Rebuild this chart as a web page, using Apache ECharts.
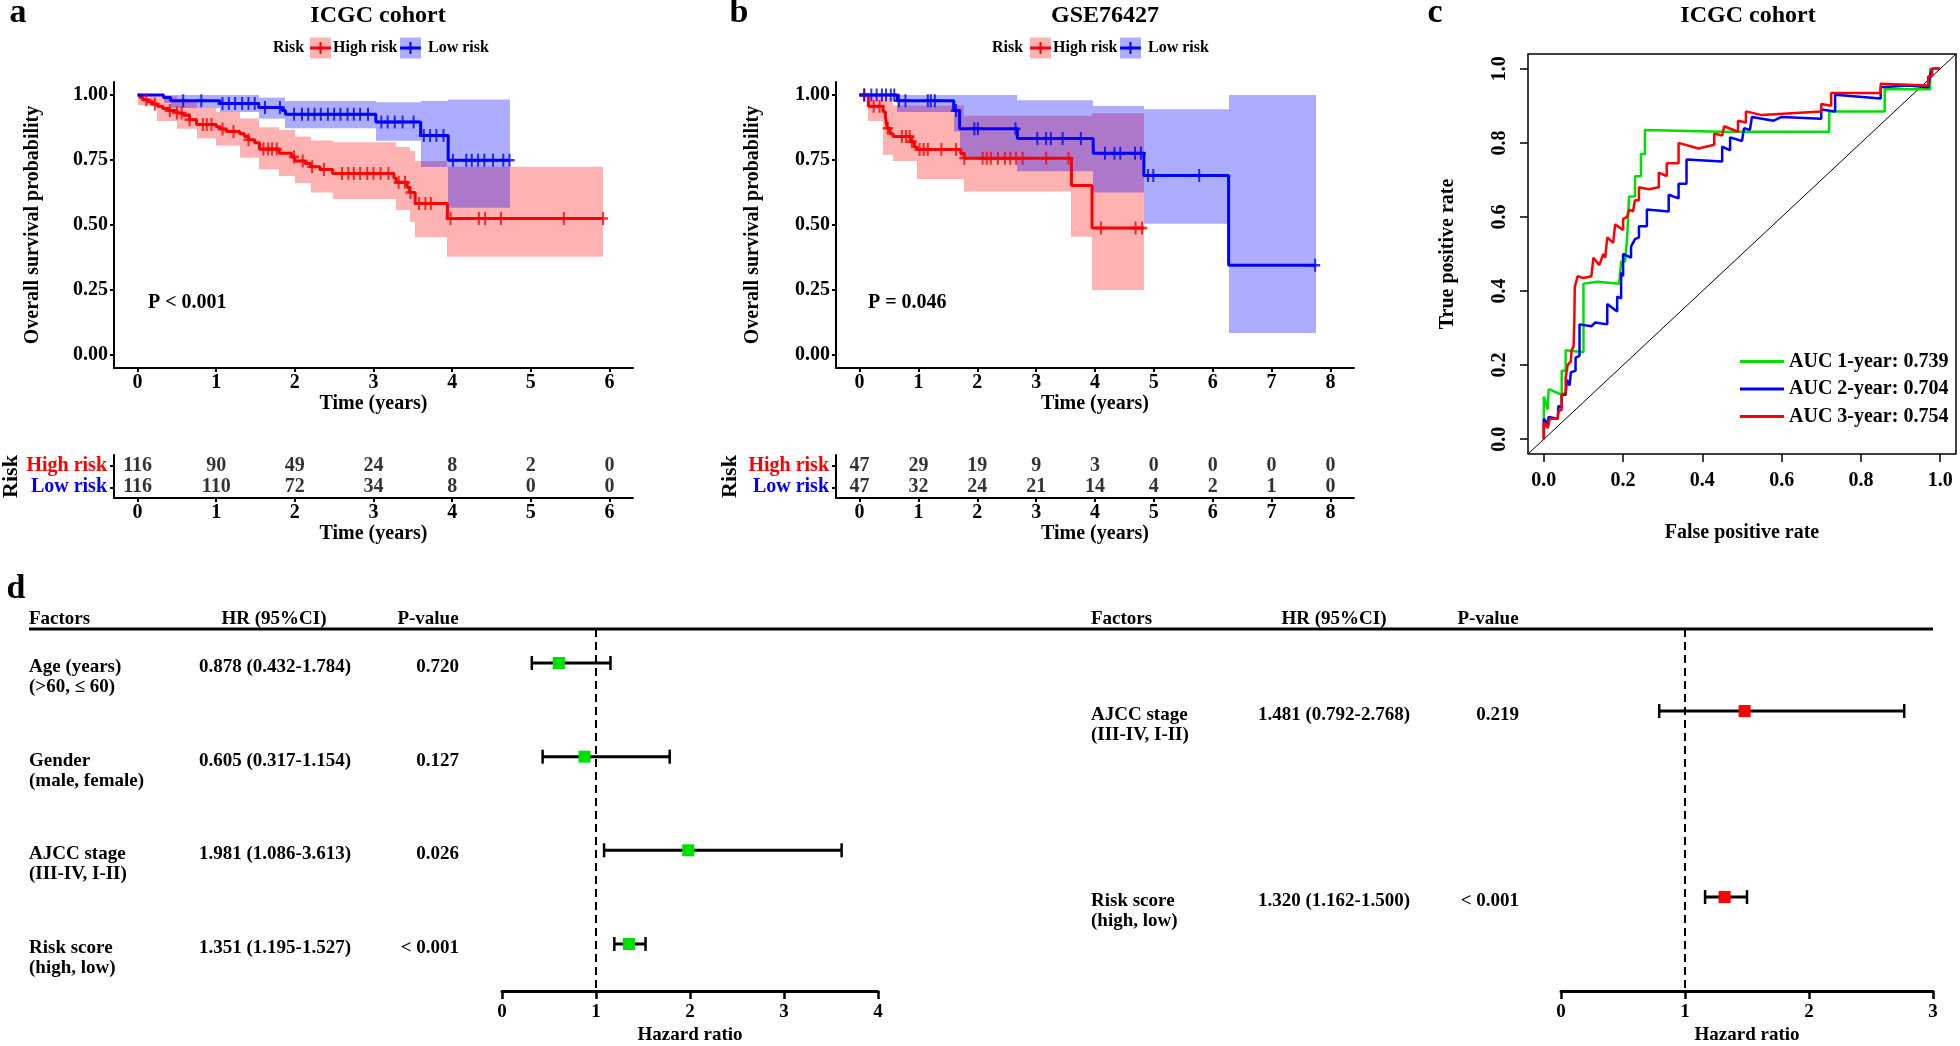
<!DOCTYPE html>
<html><head><meta charset="utf-8">
<script src="https://cdn.jsdelivr.net/npm/echarts@6/dist/echarts.min.js"></script>
<style>html,body{margin:0;padding:0;background:#fff}#c{width:1960px;height:1046px}</style>
</head><body><div id="c"></div><script>
// ---------------- DATA ----------------
// Panel a (ICGC cohort) Kaplan-Meier
const aHighTimes = [0,0.03,0.07,0.13,0.19,0.25,0.32,0.40,0.50,0.58,0.66,0.75,1.00,1.05,1.13,1.30,1.36,1.41,1.49,1.55,1.80,1.96,2.00,2.13,2.20,2.32,2.48,3.26,3.29,3.43,3.46,3.53,3.94];
const aHighSurv  = [1,0.99,0.982,0.974,0.965,0.957,0.948,0.94,0.931,0.922,0.905,0.887,0.878,0.869,0.86,0.851,0.84,0.828,0.816,0.792,0.776,0.762,0.746,0.737,0.724,0.713,0.698,0.68,0.664,0.644,0.625,0.583,0.525];
const aHighEnd = 5.92;
const aHighCensor = [0.11,0.22,0.41,0.5,0.56,0.66,0.83,0.88,0.94,1.08,1.22,1.41,1.6,1.66,1.71,1.77,1.99,2.1,2.22,2.37,2.6,2.68,2.75,2.83,2.92,3.0,3.09,3.19,3.32,3.4,3.47,3.58,3.66,3.73,3.98,4.34,4.42,4.62,5.42,5.92];
const aHighBandT  = [0,0.25,0.5,0.75,1.0,1.3,1.55,1.8,2.0,2.2,2.48,3.29,3.46,3.53,3.94,5.92];
const aHighBandLo = [0.96,0.9,0.87,0.833,0.805,0.759,0.714,0.688,0.661,0.625,0.6,0.557,0.512,0.453,0.378];
const aHighBandHi = [1.0,0.995,0.98,0.95,0.935,0.91,0.876,0.866,0.84,0.825,0.818,0.8,0.785,0.746,0.724];

const aLowTimes = [0,0.33,0.42,1.05,1.54,1.84,1.88,3.03,3.6,3.95];
const aLowSurv  = [1,0.99,0.978,0.967,0.952,0.94,0.926,0.896,0.844,0.749];
const aLowEnd = 4.73;
const aLowCensor = [0.58,0.81,1.08,1.16,1.24,1.33,1.41,1.49,1.62,1.81,1.99,2.09,2.17,2.25,2.33,2.42,2.5,2.58,2.67,2.75,2.83,2.93,3.1,3.18,3.27,3.37,3.51,3.64,3.72,3.8,3.89,4.01,4.18,4.25,4.33,4.41,4.52,4.65,4.73];
const aLowBandT  = [0.33,0.42,1.05,1.54,1.88,3.03,3.6,3.95,4.73];
const aLowBandLo = [0.97,0.95,0.935,0.909,0.872,0.824,0.723,0.566];
const aLowBandHi = [1,1,1,0.99,0.977,0.972,0.977,0.983];

const aTicks = [0,1,2,3,4,5,6];
const aHighRisk = [116,90,49,24,8,2,0];
const aLowRisk  = [116,110,72,34,8,0,0];

// Panel b (GSE76427) Kaplan-Meier
const bHighTimes = [0,0.15,0.40,0.44,0.47,0.52,0.57,0.88,0.93,0.98,1.72,1.78,3.6,3.95];
const bHighSurv  = [1,0.957,0.936,0.914,0.872,0.851,0.84,0.82,0.80,0.79,0.775,0.757,0.652,0.488];
const bHighEnd = 4.83;
const bHighCensor = [0.08,0.24,0.34,0.48,0.72,0.79,0.85,0.89,1.02,1.09,1.16,1.39,1.64,1.78,2.09,2.16,2.23,2.35,2.47,2.56,2.66,2.77,3.17,3.55,4.1,4.69,4.8];
const bHighBandT  = [0.15,0.4,0.57,0.98,1.78,3.6,3.95,4.83];
const bHighBandLo = [0.9,0.77,0.746,0.677,0.629,0.455,0.25];
const bHighBandHi = [1.0,0.99,0.96,0.96,0.92,0.92,0.93];

const bLowTimes = [0,0.64,1.6,1.7,2.68,3.97,4.83,6.27];
const bLowSurv  = [1,0.978,0.94,0.87,0.833,0.776,0.69,0.345];
const bLowEnd = 7.75;
const bLowCensor = [0.08,0.2,0.29,0.38,0.45,0.53,0.59,0.67,0.78,1.16,1.21,1.28,1.64,1.95,2.01,2.65,3.02,3.17,3.25,3.45,3.76,4.17,4.33,4.43,4.68,4.78,4.9,4.99,5.77,7.74];
const bLowBandT  = [0.64,1.6,1.7,2.68,3.97,4.83,6.27,7.75];
const bLowBandLo = [0.935,0.86,0.76,0.707,0.625,0.505,0.085];
const bLowBandHi = [1,1,1,0.98,0.958,0.945,1];

const bTicks = [0,1,2,3,4,5,6,7,8];
const bHighRisk = [47,29,19,9,3,0,0,0,0];
const bLowRisk  = [47,32,24,21,14,4,2,1,0];

const kmYTicks = [0,0.25,0.5,0.75,1];
const riskRows = ['Low risk','High risk'];

// Panel c (ROC)
const rocNames = ['AUC 1-year: 0.739','AUC 2-year: 0.704','AUC 3-year: 0.754'];
const roc1Fpr = [0,0,0.01,0.012,0.045,0.045,0.055,0.055,0.1,0.1,0.135,0.19,0.195,0.205,0.21,0.215,0.215,0.23,0.23,0.245,0.245,0.255,0.255,0.45,0.72,0.72,0.86,0.86,0.975,0.975,1];
const roc1Tpr = [0,0.115,0.08,0.135,0.12,0.185,0.185,0.24,0.235,0.42,0.425,0.42,0.48,0.48,0.54,0.54,0.655,0.655,0.71,0.71,0.77,0.77,0.835,0.83,0.83,0.885,0.885,0.945,0.945,1.0,1.0];
const roc2Fpr = [0,0,0.01,0.012,0.035,0.037,0.045,0.045,0.055,0.058,0.065,0.068,0.08,0.08,0.09,0.09,0.12,0.13,0.16,0.16,0.185,0.185,0.195,0.195,0.2,0.2,0.22,0.22,0.23,0.24,0.24,0.26,0.26,0.315,0.315,0.34,0.34,0.36,0.36,0.45,0.45,0.47,0.47,0.5,0.505,0.52,0.525,0.58,0.6,0.7,0.7,0.735,0.735,0.85,0.85,0.92,0.97,0.975,0.98,1];
const roc2Tpr = [0,0.055,0.04,0.06,0.055,0.09,0.085,0.12,0.12,0.16,0.145,0.18,0.185,0.22,0.225,0.31,0.305,0.315,0.31,0.365,0.345,0.385,0.38,0.45,0.44,0.5,0.49,0.52,0.54,0.545,0.575,0.575,0.62,0.615,0.66,0.65,0.69,0.69,0.755,0.75,0.79,0.78,0.815,0.805,0.84,0.835,0.87,0.86,0.87,0.865,0.89,0.885,0.93,0.92,0.95,0.955,0.95,0.985,1.0,1];
const roc3Fpr = [0,0,0.01,0.015,0.035,0.037,0.045,0.045,0.055,0.055,0.06,0.06,0.068,0.07,0.075,0.077,0.078,0.085,0.1,0.12,0.125,0.14,0.145,0.15,0.155,0.16,0.175,0.18,0.2,0.2,0.21,0.215,0.225,0.23,0.24,0.24,0.265,0.29,0.29,0.31,0.31,0.34,0.34,0.39,0.43,0.43,0.45,0.455,0.49,0.49,0.51,0.51,0.55,0.7,0.7,0.725,0.725,0.85,0.85,0.97,0.97,0.98,0.98,1];
const roc3Tpr = [0,0.045,0.03,0.055,0.055,0.075,0.08,0.12,0.125,0.165,0.17,0.2,0.21,0.24,0.25,0.32,0.41,0.44,0.435,0.44,0.49,0.47,0.47,0.5,0.49,0.545,0.53,0.58,0.565,0.595,0.6,0.62,0.615,0.645,0.645,0.68,0.675,0.68,0.72,0.71,0.745,0.745,0.8,0.785,0.795,0.825,0.82,0.845,0.83,0.86,0.855,0.885,0.875,0.885,0.905,0.9,0.935,0.935,0.96,0.955,0.98,0.98,1.0,1];
const rocTicks = [0,0.2,0.4,0.6,0.8,1.0];

// Panel d (forest plots)
const fLeftRows    = [1,2,3,4];
const fLeftFactors = ['Age (years)','Gender','AJCC stage','Risk score'];
const fLeftLevels  = ['(>60, \u2264 60)','(male, female)','(III-IV, I-II)','(high, low)'];
const fLeftHRText  = ['0.878 (0.432-1.784)','0.605 (0.317-1.154)','1.981 (1.086-3.613)','1.351 (1.195-1.527)'];
const fLeftPText   = ['0.720','0.127','0.026','< 0.001'];
// point estimates / CIs as drawn in the figure
const fLeftHR = [0.605,0.878,1.981,1.351];
const fLeftLo = [0.317,0.432,1.086,1.195];
const fLeftHi = [1.154,1.784,3.613,1.527];

const fRightRows    = [1,2];
const fRightFactors = ['AJCC stage','Risk score'];
const fRightLevels  = ['(III-IV, I-II)','(high, low)'];
const fRightHRText  = ['1.481 (0.792-2.768)','1.320 (1.162-1.500)'];
const fRightPText   = ['0.219','< 0.001'];
const fRightHR = [1.481,1.320];
const fRightLo = [0.792,1.162];
const fRightHi = [2.768,1.500];

// ---------------- HELPERS ----------------
const FONT = '"Liberation Serif", "Times New Roman", serif';
const RED = '#FF0000', BLUE = '#0000FF', GREEN = '#00E000';
const RED_BAND = 'rgba(255,0,0,0.30)', BLUE_BAND = 'rgba(0,0,255,0.32)';
const PLUS = 'path://M4,0h2v4h4v2h-4v4h-2v-4h-4v-2h4z';

function stepData(times, surv, end){ const d = times.map((t,i)=>[t, surv[i]]); d.push([end, surv[surv.length-1]]); return d; }
function survAt(times, surv, t){ let s = surv[0]; for (let i=0;i<times.length;i++){ if (times[i] <= t + 1e-9) s = surv[i]; } return s; }
function censorData(c, times, surv){ return c.map(t => [t, survAt(times, surv, t)]); }
function bandData(T, lo, hi){ return lo.map((l,i)=>[T[i], T[i+1], l, hi[i]]); }
function pairs(xs, ys){ return xs.map((x,i)=>[x, ys[i]]); }

function bandRender(color){
  return function(params, api){
    const a = api.coord([api.value(0), api.value(3)]);
    const b = api.coord([api.value(1), api.value(2)]);
    const x0 = Math.round(a[0]), x1 = Math.round(b[0]);
    return {type:'rect', shape:{x:x0, y:a[1], width:x1-x0, height:b[1]-a[1]}, style:{fill:color}};
  };
}
function bandSeries(gi, T, lo, hi, color){
  return {type:'custom', xAxisIndex:gi, yAxisIndex:gi, z:1, silent:true,
    encode:{x:[0,1], y:[2,3]}, data:bandData(T,lo,hi), renderItem:bandRender(color)};
}
function lineSeries(gi, times, surv, end, color){
  return {type:'line', xAxisIndex:gi, yAxisIndex:gi, z:3, step:'end', symbol:'none', silent:true,
    lineStyle:{color:color, width:3}, itemStyle:{color:color}, data:stepData(times,surv,end)};
}
function censorSeries(gi, c, times, surv, color){
  return {type:'scatter', xAxisIndex:gi, yAxisIndex:gi, z:4, symbol:PLUS, symbolSize:[10,13], silent:true,
    itemStyle:{color:color}, data:censorData(c,times,surv)};
}
function riskSeries(gi, ticks, counts, row){
  return {type:'scatter', xAxisIndex:gi, yAxisIndex:gi, symbolSize:1, silent:true,
    itemStyle:{color:'rgba(0,0,0,0)'},
    data:ticks.map((t,i)=>[t,row,counts[i]]),
    label:{show:true, position:'inside', formatter:p=>String(p.value[2]), color:'#000', fontSize:20, fontWeight:'bold', fontFamily:FONT}};
}
function forestRender(color){
  return function(params, api){
    const row = api.value(0);
    const pHr = api.coord([api.value(1), row]);
    const pLo = api.coord([api.value(2), row]);
    const pHi = api.coord([api.value(3), row]);
    const cap = 7, sq = 6;
    return {type:'group', children:[
      {type:'line', shape:{x1:pLo[0], y1:pLo[1], x2:pHi[0], y2:pHi[1]}, style:{stroke:'#000', lineWidth:3}},
      {type:'line', shape:{x1:pLo[0], y1:pLo[1]-cap, x2:pLo[0], y2:pLo[1]+cap}, style:{stroke:'#000', lineWidth:2.5}},
      {type:'line', shape:{x1:pHi[0], y1:pHi[1]-cap, x2:pHi[0], y2:pHi[1]+cap}, style:{stroke:'#000', lineWidth:2.5}},
      {type:'rect', shape:{x:pHr[0]-sq, y:pHr[1]-sq, width:2*sq, height:2*sq}, style:{fill:color}}
    ]};
  };
}
function ftxt(x, y, text, align){
  return {type:'text', x:x, y:y, style:{text:text, fill:'#000', font:'bold 19px ' + FONT, align:align, textAlign:align, verticalAlign:'middle', textVerticalAlign:'middle'}};
}
function tableRender(factors, levels, hrText, pText, cols){
  return function(params, api){
    const i = params.dataIndex;
    const y = api.coord([0, api.value(1)])[1];
    return {type:'group', children:[
      ftxt(cols[0], y+4, factors[i], 'left'),
      ftxt(cols[0], y+24, levels[i], 'left'),
      ftxt(cols[1], y+4, hrText[i], 'center'),
      ftxt(cols[2], y+4, pText[i], 'right')
    ]};
  };
}

const T20 = {color:'#000', fontFamily:FONT, fontWeight:'bold', fontSize:20};
function kmXAxis(gi, min, max, ticks, nameGap, margin){
  return {gridIndex:gi, type:'value', min:min, max:max,
    axisLine:{show:true, onZero:false, lineStyle:{color:'#000', width:2}},
    axisTick:{show:true, customValues:ticks, length:4, lineStyle:{color:'#000', width:2}},
    axisLabel:{show:true, customValues:ticks, margin:margin, formatter:v=>String(v), ...T20},
    splitLine:{show:false},
    name:'Time (years)', nameLocation:'middle', nameGap:nameGap, nameTextStyle:{...T20}};
}
function kmYAxis(gi, nameGap){
  return {gridIndex:gi, type:'value', min:-0.05, max:1.05,
    axisLine:{show:true, onZero:false, lineStyle:{color:'#000', width:2}},
    axisTick:{show:true, customValues:kmYTicks, length:4, lineStyle:{color:'#000', width:2}},
    axisLabel:{show:true, customValues:kmYTicks, margin:6, formatter:v=>v.toFixed(2), ...T20},
    splitLine:{show:false},
    name:'Overall survival probability', nameLocation:'middle', nameRotate:90, nameGap:nameGap, nameTextStyle:{...T20}};
}
function riskYAxis(gi, nameGap){
  return {gridIndex:gi, type:'category', data:riskRows,
    axisLine:{show:true, onZero:false, lineStyle:{color:'#000', width:2}},
    axisTick:{show:true, alignWithLabel:true, interval:0, length:4, lineStyle:{color:'#000', width:2}},
    axisLabel:{show:true, interval:0, margin:7, ...T20, color:(v)=> v === 'High risk' ? RED : BLUE},
    splitLine:{show:false},
    name:'Risk', nameLocation:'middle', nameRotate:90, nameGap:nameGap, nameTextStyle:{...T20, fontSize:22}};
}
function forestXAxis(gi, max){
  return {gridIndex:gi, type:'value', min:0, max:max, interval:1,
    axisLine:{show:true, onZero:false, lineStyle:{color:'#000', width:3}},
    axisTick:{show:true, length:8, lineStyle:{color:'#000', width:2.5}},
    axisLabel:{show:true, margin:12, ...T20, fontSize:19},
    splitLine:{show:false},
    name:'Hazard ratio', nameLocation:'middle', nameGap:35, nameTextStyle:{...T20, fontSize:19}};
}
function forestYAxis(gi, min, max){
  return {gridIndex:gi, type:'value', min:min, max:max, inverse:true, show:false, axisLine:{onZero:false}, splitLine:{show:false}};
}

// ---------------- GRAPHICS (free text) ----------------
function gtext(x, y, text, size, align, color){
  return {type:'text', x:x, y:y, silent:true, style:{text:text, fill:color || '#000', font:'bold ' + size + 'px ' + FONT,
    align:align, textAlign:align, verticalAlign:'middle', textVerticalAlign:'middle'}};
}
function legendKey(x, y, color, band){
  return [
    {type:'rect', shape:{x:x, y:y-10.5, width:21, height:21}, style:{fill:band}, silent:true},
    {type:'line', shape:{x1:x, y1:y, x2:x+21, y2:y}, style:{stroke:color, lineWidth:3}, silent:true},
    {type:'line', shape:{x1:x+10.5, y1:y-6, x2:x+10.5, y2:y+6}, style:{stroke:color, lineWidth:2}, silent:true}
  ];
}
const graphics = [
  gtext(18, 13, 'a', 34, 'center'), gtext(739, 13, 'b', 34, 'center'),
  gtext(1435, 13, 'c', 34, 'center'), gtext(16, 589, 'd', 34, 'center'),
  gtext(378, 16, 'ICGC cohort', 24, 'center'), gtext(1105, 16, 'GSE76427', 24, 'center'),
  gtext(1748, 16, 'ICGC cohort', 24, 'center'),
  gtext(273, 48, 'Risk', 16, 'left'), ...legendKey(310, 48, RED, RED_BAND), gtext(333, 48, 'High risk', 16, 'left'),
  ...legendKey(400, 48, BLUE, BLUE_BAND), gtext(428, 48, 'Low risk', 16, 'left'),
  gtext(992, 48, 'Risk', 16, 'left'), ...legendKey(1030, 48, RED, RED_BAND), gtext(1053, 48, 'High risk', 16, 'left'),
  ...legendKey(1120, 48, BLUE, BLUE_BAND), gtext(1148, 48, 'Low risk', 16, 'left'),
  gtext(148, 303, 'P < 0.001', 20, 'left'), gtext(868, 303, 'P = 0.046', 20, 'left'),
  gtext(29, 619, 'Factors', 19, 'left'), gtext(274, 619, 'HR (95%CI)', 19, 'center'), gtext(428, 619, 'P-value', 19, 'center'),
  gtext(1091, 619, 'Factors', 19, 'left'), gtext(1334, 619, 'HR (95%CI)', 19, 'center'), gtext(1488, 619, 'P-value', 19, 'center'),
  {type:'line', shape:{x1:29, y1:629, x2:1933, y2:629}, style:{stroke:'#000', lineWidth:3}, silent:true}
];

// ---------------- OPTION ----------------
const G = (l,t,w,h) => ({left:l, top:t, width:w, height:h, containLabel:false, outerBoundsMode:'none', show:false});
const grids = [
  G(114,82,519,286), G(114,455,519,43),
  G(836,82,518,286), G(836,455,518,43),
  {...G(1528,54,428,400), show:true, borderColor:'#000', borderWidth:1.5, backgroundColor:'transparent'},
  G(502,629,376,362), G(1561,629,372,362)
];

const rocAxisX = {gridIndex:4, type:'value', min:-0.04, max:1.04,
  axisLine:{show:false, onZero:false}, axisTick:{show:true, customValues:rocTicks, length:8, lineStyle:{color:'#000', width:1.5}},
  axisLabel:{show:true, customValues:rocTicks, margin:17, formatter:v=>v.toFixed(1), ...T20},
  splitLine:{show:false}, name:'False positive rate', nameLocation:'middle', nameGap:69, nameTextStyle:{...T20}};
const rocAxisY = {gridIndex:4, type:'value', min:-0.04, max:1.04,
  axisLine:{show:false, onZero:false}, axisTick:{show:true, customValues:rocTicks, length:8, lineStyle:{color:'#000', width:1.5}},
  axisLabel:{show:true, customValues:rocTicks, margin:18, rotate:90, formatter:v=>v.toFixed(1), ...T20},
  splitLine:{show:false}, name:'True positive rate', nameLocation:'middle', nameRotate:90, nameGap:70, nameTextStyle:{...T20}};

const rocColors = [GREEN, BLUE, RED];
const rocData = [pairs(roc1Fpr, roc1Tpr), pairs(roc2Fpr, roc2Tpr), pairs(roc3Fpr, roc3Tpr)];

const series = [
  // panel a
  bandSeries(0, aHighBandT, aHighBandLo, aHighBandHi, RED_BAND),
  bandSeries(0, aLowBandT, aLowBandLo, aLowBandHi, BLUE_BAND),
  lineSeries(0, aHighTimes, aHighSurv, aHighEnd, RED),
  lineSeries(0, aLowTimes, aLowSurv, aLowEnd, BLUE),
  censorSeries(0, aHighCensor, aHighTimes, aHighSurv, RED),
  censorSeries(0, aLowCensor, aLowTimes, aLowSurv, BLUE),
  riskSeries(1, aTicks, aHighRisk, 1), riskSeries(1, aTicks, aLowRisk, 0),
  // panel b
  bandSeries(2, bHighBandT, bHighBandLo, bHighBandHi, RED_BAND),
  bandSeries(2, bLowBandT, bLowBandLo, bLowBandHi, BLUE_BAND),
  lineSeries(2, bHighTimes, bHighSurv, bHighEnd, RED),
  lineSeries(2, bLowTimes, bLowSurv, bLowEnd, BLUE),
  censorSeries(2, bHighCensor, bHighTimes, bHighSurv, RED),
  censorSeries(2, bLowCensor, bLowTimes, bLowSurv, BLUE),
  riskSeries(3, bTicks, bHighRisk, 1), riskSeries(3, bTicks, bLowRisk, 0),
  // panel c
  {type:'line', xAxisIndex:4, yAxisIndex:4, symbol:'none', silent:true, z:2,
   lineStyle:{color:'#000', width:1}, data:[[-0.04,-0.04],[1.04,1.04]]},
  ...rocNames.map((n,i)=>({name:n, type:'line', xAxisIndex:4, yAxisIndex:4, symbol:'none', silent:true, z:3+i,
     color:rocColors[i], lineStyle:{color:rocColors[i], width:2.5}, itemStyle:{color:rocColors[i]}, data:rocData[i]})),
  // panel d left
  {type:'line', xAxisIndex:5, yAxisIndex:5, symbol:'none', silent:true,
   lineStyle:{color:'#000', width:2, type:[8,5]}, data:[[1,0.637],[1,4.502]]},
  {type:'custom', xAxisIndex:5, yAxisIndex:5, silent:true, z:5, encode:{x:[1,2,3], y:0},
   data:fLeftRows.map((r,i)=>[r, fLeftHR[i], fLeftLo[i], fLeftHi[i]]), renderItem:forestRender(GREEN)},
  {type:'custom', xAxisIndex:5, yAxisIndex:5, silent:true, clip:false, encode:{x:0, y:1},
   data:fLeftRows.map(r=>[0, r]), renderItem:tableRender(fLeftFactors, fLeftLevels, fLeftHRText, fLeftPText, [29, 275, 459])},
  // panel d right
  {type:'line', xAxisIndex:6, yAxisIndex:6, symbol:'none', silent:true,
   lineStyle:{color:'#000', width:2, type:[8,5]}, data:[[1,0.559],[1,2.505]]},
  {type:'custom', xAxisIndex:6, yAxisIndex:6, silent:true, z:5, encode:{x:[1,2,3], y:0},
   data:fRightRows.map((r,i)=>[r, fRightHR[i], fRightLo[i], fRightHi[i]]), renderItem:forestRender('#FF0000')},
  {type:'custom', xAxisIndex:6, yAxisIndex:6, silent:true, clip:false, encode:{x:0, y:1},
   data:fRightRows.map(r=>[0, r]), renderItem:tableRender(fRightFactors, fRightLevels, fRightHRText, fRightPText, [1091, 1334, 1519])}
];

const option = {
  animation:false,
  backgroundColor:'#fff',
  textStyle:{fontFamily:FONT},
  grid:grids,
  xAxis:[
    kmXAxis(0,-0.3,6.3,aTicks,21,5), kmXAxis(1,-0.3,6.3,aTicks,25,5),
    kmXAxis(2,-0.4,8.4,bTicks,21,5), kmXAxis(3,-0.4,8.4,bTicks,25,5),
    rocAxisX, forestXAxis(5,4), forestXAxis(6,3)
  ],
  yAxis:[
    kmYAxis(0,71), riskYAxis(1,92), kmYAxis(2,73), riskYAxis(3,95),
    rocAxisY, forestYAxis(5,0.637,4.502), forestYAxis(6,0.559,2.505)
  ],
  legend:{data:rocNames, orient:'vertical', left:1740, top:351, padding:0, icon:'rect', itemWidth:44, itemHeight:3, itemGap:6.5,
    selectedMode:false, textStyle:{...T20, lineHeight:21}},
  graphic:{elements:graphics},
  series:series
};

const chart = echarts.init(document.getElementById('c'), null, {renderer:'canvas'});
chart.setOption(option);
</script></body></html>
